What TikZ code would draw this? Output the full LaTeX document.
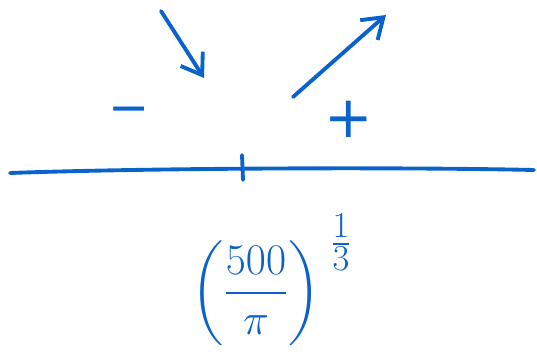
\documentclass[tikz,border=0pt]{standalone}
\usepackage{amsmath}
\usepackage{fontspec}
\newfontfamily\signfont{DejaVu Sans}
\usetikzlibrary{arrows.meta}
\definecolor{inkblue}{HTML}{0A62CC}

\begin{document}
\begin{tikzpicture}[x=0.02cm, y=-0.02cm, line width=2.2pt, line cap=round,
    draw=inkblue, text=inkblue]
  \useasboundingbox (0,0) rectangle (537,354);
  \tikzset{
    pen/.style={draw=inkblue, line width=2.2pt, line cap=round},
    signarrow/.style={pen, -{Straight Barb[length=11pt, width=15pt, line width=2.2pt]}},
    signtext/.style={inner sep=0pt, font=\signfont\fontsize{28}{34}\selectfont}
  }
  % number line with the critical point
  \coordinate (lineL) at (10,173);
  \coordinate (lineR) at (534,170);
  \coordinate (tickT) at (242,155);
  \coordinate (tickB) at (243,180);
  \draw[pen] (lineL) .. controls (150,168) and (400,167) .. (lineR);
  \draw[pen] (tickT) -- (tickB);
  % sign of the derivative on each side
  \node[signtext, anchor=base] (neg) at (129,125) {−};
  \node[signtext, font=\signfont\fontsize{33}{40}\selectfont] (pos) at (349,119) {+};
  % decreasing / increasing
  \coordinate (decS) at (161,11);
  \coordinate (decE) at (204,78);
  \coordinate (incS) at (293,97);
  \coordinate (incE) at (386,15);
  \draw[signarrow] (decS) -- (decE);
  \draw[signarrow] (incS) -- (incE);
  % critical value
  \node[inner sep=0pt, font=\fontsize{28}{34}\selectfont] (crit) at (272,280)
    {$\left(\dfrac{500}{\pi}\right)^{\;\textstyle\frac{1}{3}}$};
\end{tikzpicture}
\end{document}
